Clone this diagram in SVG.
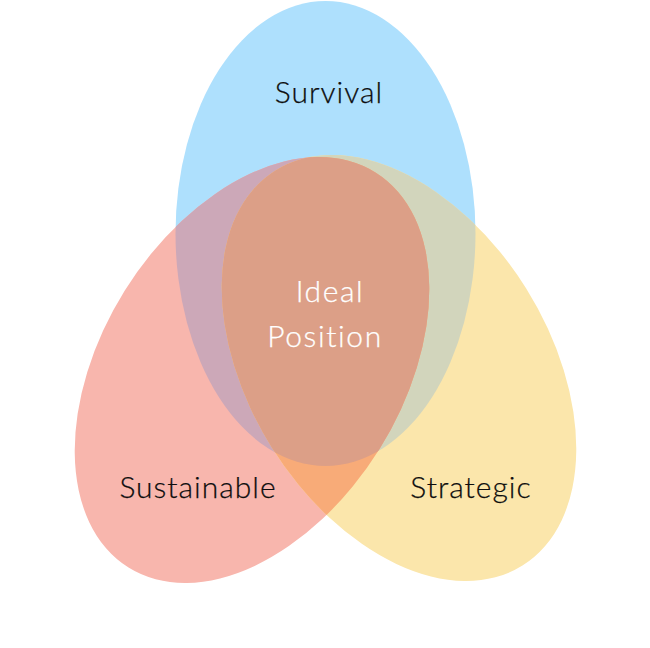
<svg xmlns="http://www.w3.org/2000/svg" width="650" height="648" viewBox="0 0 650 648">
<style>
.lbl{font-family:"Lato","Liberation Sans",sans-serif;font-size:30px;font-weight:300;letter-spacing:1px;fill:#0d0d0d;stroke:#0d0d0d;stroke-width:0.25px;text-anchor:middle;}
.ideal{font-family:"Lato","Liberation Sans",sans-serif;font-size:30px;font-weight:300;letter-spacing:1.6px;fill:#ffffff;stroke:#ffffff;stroke-width:0.25px;text-anchor:middle;}
</style>
<defs>
<ellipse id="eBlue" cx="325.5" cy="233.5" rx="150" ry="232.5"/>
<ellipse id="eRed" cx="0" cy="0" rx="150" ry="233" transform="translate(252 370) rotate(32)"/>
<ellipse id="eYel" cx="0" cy="0" rx="150" ry="233" transform="translate(399 368) rotate(-32)"/>
<clipPath id="cBlue"><use href="#eBlue"/></clipPath>
<clipPath id="cRed"><use href="#eRed"/></clipPath>
</defs>
<rect width="650" height="648" fill="#ffffff"/>
<g id="survival">
<use href="#eBlue" fill="#aee0fd"/>
</g>
<g id="sustainable">
<use href="#eRed" fill="#f8b6ad"/>
</g>
<g id="strategic">
<use href="#eYel" fill="#fbe6ab"/>
</g>
<g id="overlaps">
<use href="#eRed" fill="#cca8b8" clip-path="url(#cBlue)"/>
<use href="#eYel" fill="#d2d5bc" clip-path="url(#cBlue)"/>
<use href="#eYel" fill="#f8ab78" clip-path="url(#cRed)"/>
<g clip-path="url(#cBlue)"><use href="#eYel" fill="#dc9f87" clip-path="url(#cRed)"/></g>
</g>
<g id="labels">
<text class="lbl" x="329" y="103">Survival</text>
<text class="lbl" x="198" y="498">Sustainable</text>
<text class="lbl" x="471" y="498">Strategic</text>
<text class="ideal" x="330" y="302">Ideal</text>
<text class="ideal" x="325" y="347">Position</text>
</g>
</svg>
